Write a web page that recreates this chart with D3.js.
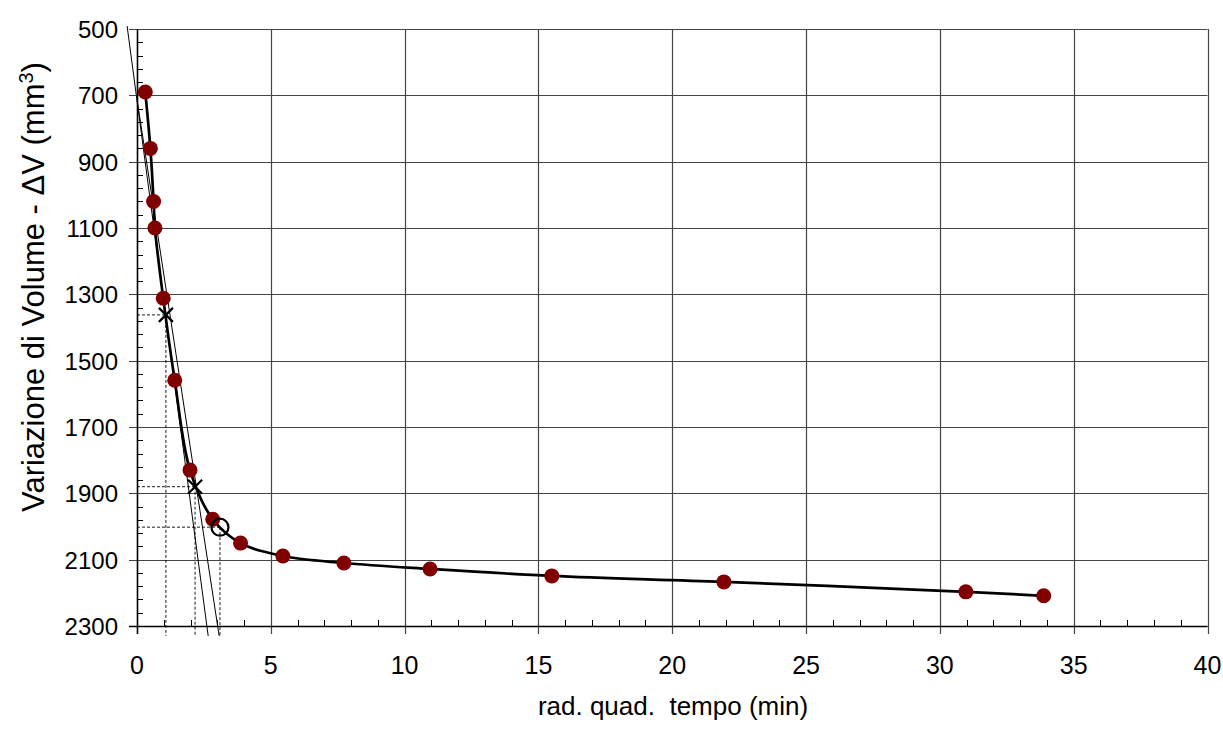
<!DOCTYPE html>
<html><head><meta charset="utf-8">
<script src="https://cdn.jsdelivr.net/npm/d3@7"></script>
<style>body{margin:0;background:#fff}svg{display:block;font-family:"Liberation Sans",Arial,sans-serif}</style>
</head><body><svg id="c" width="1223" height="730"></svg>
<script>
// data
const sqrtTime = [0.31, 0.50, 0.62, 0.67, 0.98, 1.41, 1.98, 2.83, 3.87, 5.45, 7.73, 10.95, 15.5, 21.93, 30.97, 33.88];
const deltaV   = [690, 860, 1020, 1100, 1312, 1559, 1830, 1978, 2050, 2089, 2110, 2128, 2149, 2167, 2197, 2209];
const lineA = [[-0.37, 491], [2.66, 2330]];
const lineB = [[0, 712], [3.07, 2330]];
const crossMarks = [[1.08, 1362], [2.17, 1880]];
const circleMark = [[3.10, 2002]];
const xTicks = [0, 5, 10, 15, 20, 25, 30, 35, 40];
const yTicks = [500, 700, 900, 1100, 1300, 1500, 1700, 1900, 2100, 2300];
const xTitle = "rad. quad.\u00a0 tempo (min)";
const yTitle = "Variazione di Volume - ΔV (mm";

const svg = d3.select("#c");
const L = 137, R = 1207.5, T = 29, B = 626;
const x = d3.scaleLinear().domain([0, 40]).range([L, R]);
const y = d3.scaleLinear().domain([500, 2300]).range([T, B]);

// grid
const g = svg.append("g");
g.selectAll(".gx").data(xTicks).join("line")
  .attr("x1", d => Math.round(x(d)) + 0.5).attr("x2", d => Math.round(x(d)) + 0.5)
  .attr("y1", T).attr("y2", B + 8).attr("stroke", "#444").attr("stroke-width", 1.2);
g.selectAll(".gy").data(yTicks).join("line")
  .attr("y1", d => Math.round(y(d)) + 0.5).attr("y2", d => Math.round(y(d)) + 0.5)
  .attr("x1", L - 8).attr("x2", R).attr("stroke", "#444").attr("stroke-width", 1.2);

// minor ticks
const xMinor = d3.range(1, 40).filter(v => v % 5 !== 0);
g.selectAll(".mx").data(xMinor).join("line")
  .attr("x1", d => Math.round(x(d)) + 0.5).attr("x2", d => Math.round(x(d)) + 0.5)
  .attr("y1", B - 6).attr("y2", B).attr("stroke", "#000");
const yMinor = d3.range(540, 2300, 40).filter(v => (v - 500) % 200 !== 0);
g.selectAll(".my").data(yMinor).join("line")
  .attr("y1", d => Math.round(y(d)) + 0.5).attr("y2", d => Math.round(y(d)) + 0.5)
  .attr("x1", L).attr("x2", L + 6).attr("stroke", "#000");

// axes lines
g.append("line").attr("x1", L - 8).attr("x2", R).attr("y1", Math.round(B) + 0.5).attr("y2", Math.round(B) + 0.5).attr("stroke", "#000").attr("stroke-width", 1.5);
g.append("line").attr("x1", Math.round(L) + 0.5).attr("x2", Math.round(L) + 0.5).attr("y1", T).attr("y2", B + 8).attr("stroke", "#000").attr("stroke-width", 1.5);

// tick labels
svg.selectAll(".xl").data(xTicks).join("text")
  .attr("x", d => x(d)).attr("y", 674).attr("text-anchor", "middle")
  .attr("font-size", 25).text(d => d);
svg.selectAll(".yl").data(yTicks).join("text")
  .attr("x", 118).attr("y", d => y(d) + 9).attr("text-anchor", "end")
  .attr("font-size", 24).text(d => d);

// titles
svg.append("text").attr("x", 673).attr("y", 715).attr("text-anchor", "middle")
  .attr("font-size", 26).text(xTitle);
const yt = svg.append("text").attr("transform", "translate(44,287) rotate(-90)")
  .attr("text-anchor", "middle").attr("font-size", 31);
yt.append("tspan").text(yTitle);
yt.append("tspan").attr("baseline-shift", "super").attr("font-size", 20).text("3");
yt.append("tspan").text(")");

// dashed guides
const dashG = svg.append("g").attr("stroke", "#000").attr("stroke-width", 0.9).attr("stroke-dasharray", "3,2").attr("fill", "none");
const guides = crossMarks.concat(circleMark);
guides.forEach(p => {
  dashG.append("line").attr("x1", x(0)).attr("x2", x(p[0])).attr("y1", y(p[1])).attr("y2", y(p[1]));
  dashG.append("line").attr("x1", x(p[0])).attr("x2", x(p[0])).attr("y1", y(p[1])).attr("y2", y(2330));
});

// construction lines
const ln = d3.line().x(d => x(d[0])).y(d => y(d[1]));
[lineA, lineB].forEach(l => svg.append("path").attr("d", ln(l)).attr("stroke", "#000").attr("stroke-width", 1).attr("fill", "none"));

// curve
const pts = sqrtTime.map((v, i) => [v, deltaV[i]]);
svg.append("path").attr("d", d3.line().x(d => x(d[0])).y(d => y(d[1])).curve(d3.curveCatmullRom)(pts))
  .attr("stroke", "#000").attr("stroke-width", 2.7).attr("fill", "none");

// points
svg.selectAll(".pt").data(pts).join("circle")
  .attr("cx", d => x(d[0])).attr("cy", d => y(d[1])).attr("r", 7.5).attr("fill", "#800000");

// cross marks
crossMarks.forEach(p => {
  const cx = x(p[0]), cy = y(p[1]), s = 7;
  svg.append("path").attr("d", `M${cx - s},${cy - s}L${cx + s},${cy + s}M${cx - s},${cy + s}L${cx + s},${cy - s}`)
    .attr("stroke", "#000").attr("stroke-width", 2.2).attr("fill", "none");
});
svg.selectAll(".cm").data(circleMark).join("circle")
  .attr("cx", d => x(d[0])).attr("cy", d => y(d[1])).attr("r", 8.5)
  .attr("fill", "none").attr("stroke", "#000").attr("stroke-width", 2.2);
</script></body></html>
